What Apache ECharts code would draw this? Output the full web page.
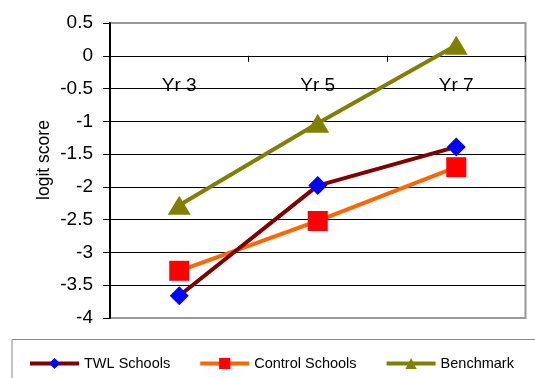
<!DOCTYPE html>
<html>
<head>
<meta charset="utf-8">
<script src="https://cdn.jsdelivr.net/npm/echarts@6/dist/echarts.min.js"></script>
<style>
  html, body { margin: 0; padding: 0; background: #fff; }
  #chart { width: 535px; height: 378px; }
</style>
</head>
<body>
<div id="chart"></div>
<script>
// Year levels on the category axis
const years = ['Yr 3', 'Yr 5', 'Yr 7'];

// Mean logit scores per group
const twlSchools = [-3.66, -1.98, -1.39];
const controlSchools = [-3.28, -2.52, -1.70];
const benchmark = [-2.28, -1.03, 0.16];

// Value axis range
const yMin = -4;
const yMax = 0.5;
const yStep = 0.5;

const FONT = '"Liberation Sans", Arial, sans-serif';

const GRID = { left: 110, right: 9.5, top: 23, bottom: 60 };
const plotHeight = 378 - GRID.top - GRID.bottom;
// Category axis sits on the zero line of the value axis
const zeroOffset = -plotHeight * (0 - yMin) / (yMax - yMin);

const chart = echarts.init(document.getElementById('chart'), null, { renderer: 'canvas' });

// Grey for the outer edges of the plot, black for the inner grid lines
const tickCount = Math.round((yMax - yMin) / yStep) + 1;
const splitColors = [];
for (let i = 0; i < tickCount; i++) {
  splitColors.push(i === 0 || i === tickCount - 1 ? '#999999' : '#000000');
}

chart.setOption({
  animation: false,
  backgroundColor: '#ffffff',
  grid: Object.assign({
    show: true, borderColor: '#999999', borderWidth: 2, backgroundColor: 'transparent'
  }, GRID),
  xAxis: {
    type: 'category',
    data: years,
    position: 'bottom',
    offset: zeroOffset,
    boundaryGap: true,
    axisLine: { onZero: false, lineStyle: { color: '#000', width: 1 } },
    axisTick: { show: true, length: 6, inside: false, lineStyle: { color: '#000' } },
    axisLabel: { margin: 20, fontFamily: FONT, fontSize: 19, color: '#000' },
    splitLine: { show: false }
  },
  yAxis: {
    type: 'value',
    min: yMin, max: yMax, interval: yStep,
    axisLine: { show: true, lineStyle: { color: '#000', width: 2 } },
    axisTick: { show: true, length: 7, lineStyle: { color: '#000' } },
    axisLabel: { margin: 17, fontFamily: FONT, fontSize: 19, color: '#000' },
    splitLine: { show: true, lineStyle: { color: splitColors, width: 1 } }
  },
  legend: {
    left: 28, top: 356, padding: 0,
    itemWidth: 49, itemHeight: 14, itemGap: 28,
    lineStyle: { width: 4 },
    textStyle: { fontFamily: FONT, fontSize: 14.5, color: '#000' },
    data: ['TWL Schools', 'Control Schools', 'Benchmark']
  },
  graphic: [
    {
      type: 'rect', silent: true,
      shape: { x: 12, y: 339.5, width: 600, height: 80 },
      style: { fill: 'none', stroke: '#888888', lineWidth: 1 }
    },
    {
      type: 'text', silent: true,
      x: 44, y: 160, rotation: Math.PI / 2,
      style: {
        text: 'logit score', font: '17.5px ' + FONT, fill: '#000',
        textAlign: 'center', textVerticalAlign: 'middle'
      }
    }
  ],
  series: [
    {
      name: 'TWL Schools', type: 'line', data: twlSchools,
      symbol: 'diamond', symbolSize: 19,
      lineStyle: { color: '#800000', width: 4 },
      itemStyle: { color: '#0000ff', borderWidth: 0 },
      z: 3
    },
    {
      name: 'Control Schools', type: 'line', data: controlSchools,
      symbol: 'rect', symbolSize: 20,
      lineStyle: { color: '#ff6600', width: 4 },
      itemStyle: { color: '#ff0000', borderWidth: 0 },
      z: 2
    },
    {
      name: 'Benchmark', type: 'line', data: benchmark,
      symbol: 'triangle', symbolSize: [23, 19],
      lineStyle: { color: '#808000', width: 4 },
      itemStyle: { color: '#808000', borderWidth: 0 },
      z: 4
    }
  ]
});
</script>
</body>
</html>
